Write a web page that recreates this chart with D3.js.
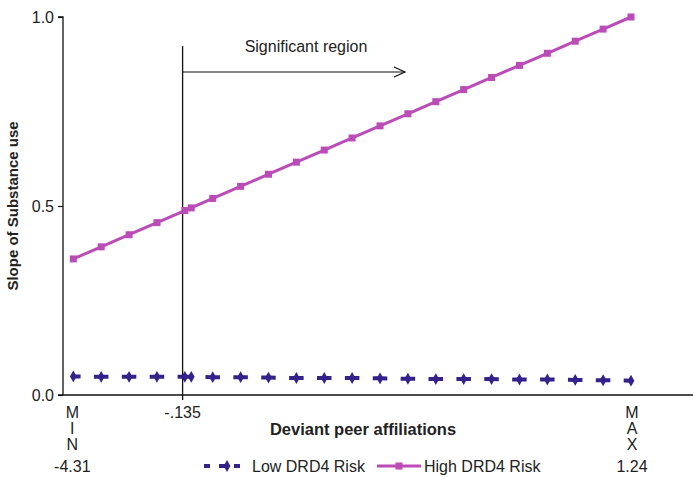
<!DOCTYPE html>
<html>
<head>
<meta charset="utf-8">
<script src="https://cdn.jsdelivr.net/npm/d3@7"></script>
<style>
  html, body { margin: 0; padding: 0; background: #fff; }
  svg text { font-family: "Liberation Sans", Arial, sans-serif; fill: #222; }
</style>
</head>
<body>
<svg id="chart" width="693" height="477"></svg>
<script>
// Evaluation points along the moderator (plotted positions), incl. the extra point at the boundary
const positions = [0, 1, 2, 3, 4, 4.23, 5, 6, 7, 8, 9, 10, 11, 12, 13, 14, 15, 16, 17, 18, 19, 20];
// Simple slopes of substance use
const highRisk = [0.360, 0.392, 0.424, 0.456, 0.488, 0.495, 0.520, 0.552, 0.584, 0.616, 0.648,
                  0.680, 0.712, 0.744, 0.776, 0.808, 0.840, 0.872, 0.904, 0.936, 0.968, 1.000];
const lowRisk  = [0.049, 0.048, 0.048, 0.048, 0.048, 0.048, 0.047, 0.047, 0.046, 0.045, 0.045,
                  0.045, 0.044, 0.043, 0.042, 0.042, 0.042, 0.041, 0.041, 0.040, 0.039, 0.038];
const yTicks = [0, 0.5, 1.0];
// Region-of-significance boundary and the axis end labels
const boundaryPos = 3.92;
const boundaryLabel = "-.135";
const minLabel = ["M", "I", "N", "-4.31"];
const maxLabel = ["M", "A", "X", "1.24"];
const seriesNames = ["Low DRD4 Risk", "High DRD4 Risk"];

const lowColor = "#34228a";
const highColor = "#bb4bb6";
const fs = 16;

const svg = d3.select("#chart");

const x = d3.scaleLinear().domain([0, 20]).range([73.3, 631]);
const y = d3.scaleLinear().domain([0, 1]).range([395, 17]);
const xLeft = 63, xRight = 693;

// Y axis
const yAxis = d3.axisLeft(y).tickValues(yTicks).tickFormat(d3.format(".1f")).tickSize(5).tickPadding(4);
const gy = svg.append("g").attr("transform", `translate(${xLeft},0)`).call(yAxis);
gy.select(".domain").attr("stroke", "#111").attr("stroke-width", 1.3).attr("d", `M-5,${y(1)}H0V${y(0)}`);
gy.selectAll(".tick line").attr("stroke", "#111").attr("stroke-width", 1.2);
gy.selectAll(".tick text").attr("font-size", fs).attr("fill", "#222")
  .attr("font-family", "Liberation Sans, Arial, sans-serif");

// X axis baseline
svg.append("line")
  .attr("x1", xLeft - 5).attr("x2", xRight)
  .attr("y1", y(0)).attr("y2", y(0))
  .attr("stroke", "#111").attr("stroke-width", 1.3);

// Boundary line and significance arrow
const bx = x(boundaryPos);
svg.append("line")
  .attr("x1", bx).attr("x2", bx).attr("y1", 46).attr("y2", y(0) + 5)
  .attr("stroke", "#111").attr("stroke-width", 1.3);
const arrowY = 72, arrowEnd = 405;
svg.append("line")
  .attr("x1", bx).attr("x2", arrowEnd).attr("y1", arrowY).attr("y2", arrowY)
  .attr("stroke", "#111").attr("stroke-width", 1.2);
svg.append("path")
  .attr("d", `M${arrowEnd - 11},${arrowY - 5}L${arrowEnd},${arrowY}L${arrowEnd - 11},${arrowY + 5}`)
  .attr("fill", "none").attr("stroke", "#111").attr("stroke-width", 1.2);
svg.append("text")
  .attr("x", 306).attr("y", 52).attr("text-anchor", "middle")
  .attr("font-size", fs).text("Significant region");

// Series data
const highData = positions.map((p, i) => ({ p, v: highRisk[i] }));
const lowData = positions.map((p, i) => ({ p, v: lowRisk[i] }));
const line = d3.line().x(d => x(d.p)).y(d => y(d.v));

// Low risk: dashed line with diamond markers
const step = x(1) - x(0);
svg.append("path").datum(lowData)
  .attr("d", line).attr("fill", "none")
  .attr("stroke", lowColor).attr("stroke-width", 4)
  .attr("stroke-dasharray", `${step * 0.52},${step * 0.48}`)
  .attr("stroke-dashoffset", step * 0.26);
const diamond = d3.symbol().type(d3.symbolDiamond).size(40);
svg.append("g").selectAll("path").data(lowData).join("path")
  .attr("d", diamond)
  .attr("transform", d => `translate(${x(d.p)},${y(d.v)})`)
  .attr("fill", lowColor);

// High risk: solid line with square markers
svg.append("path").datum(highData)
  .attr("d", line).attr("fill", "none")
  .attr("stroke", highColor).attr("stroke-width", 3);
svg.append("g").selectAll("rect").data(highData).join("rect")
  .attr("x", d => x(d.p) - 3.5).attr("y", d => y(d.v) - 3.5)
  .attr("width", 7).attr("height", 7)
  .attr("fill", highColor);

// X-axis end labels and boundary label
const lblY0 = 418, lblDy = 16;
function stackLabel(xp, parts) {
  const g = svg.append("g");
  parts.forEach((t, i) => {
    g.append("text")
      .attr("x", xp).attr("y", i < 3 ? lblY0 + i * lblDy : 472)
      .attr("text-anchor", "middle").attr("font-size", fs).text(t);
  });
}
stackLabel(x(0) - 1, minLabel);
stackLabel(x(20) + 1, maxLabel);
svg.append("text").attr("x", bx).attr("y", lblY0)
  .attr("text-anchor", "middle").attr("font-size", fs).text(boundaryLabel);

// Axis titles
svg.append("text")
  .attr("x", 363).attr("y", 435).attr("text-anchor", "middle")
  .attr("font-size", 16.5).attr("font-weight", "bold").text("Deviant peer affiliations");
svg.append("text")
  .attr("transform", `translate(18,${y(0.5)}) rotate(-90)`)
  .attr("text-anchor", "middle")
  .attr("font-size", 15).attr("font-weight", "bold").text("Slope of Substance use");

// Legend
const legY = 466;
const lg = svg.append("g");
lg.append("line").attr("x1", 204).attr("x2", 249).attr("y1", legY).attr("y2", legY)
  .attr("stroke", lowColor).attr("stroke-width", 4).attr("stroke-dasharray", "6,9");
lg.append("path").attr("d", diamond).attr("transform", `translate(227,${legY})`).attr("fill", lowColor);
lg.append("text").attr("x", 252).attr("y", legY + 6).attr("font-size", fs).text(seriesNames[0]);
lg.append("line").attr("x1", 377).attr("x2", 421).attr("y1", legY).attr("y2", legY)
  .attr("stroke", highColor).attr("stroke-width", 3);
lg.append("rect").attr("x", 395.5).attr("y", legY - 3.5).attr("width", 7).attr("height", 7).attr("fill", highColor);
lg.append("text").attr("x", 424).attr("y", legY + 6).attr("font-size", fs).text(seriesNames[1]);
</script>
</body>
</html>
